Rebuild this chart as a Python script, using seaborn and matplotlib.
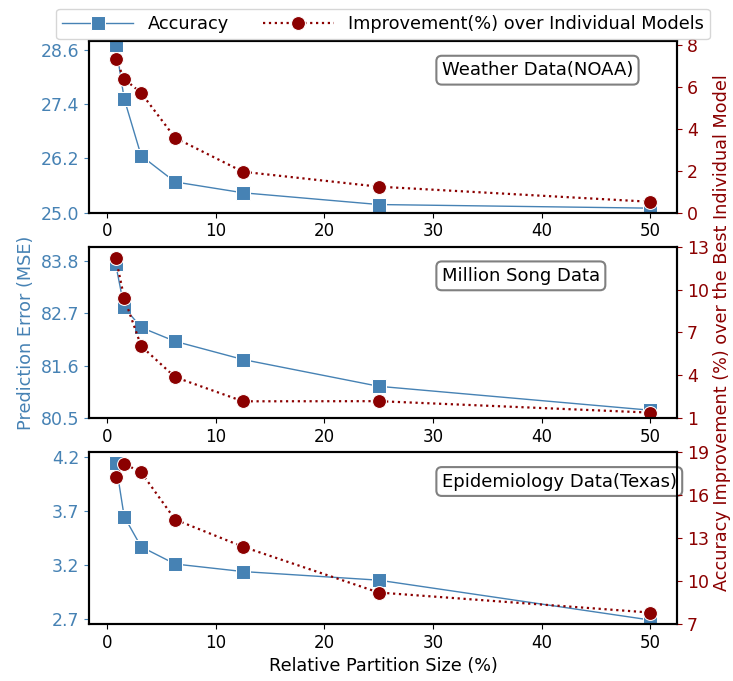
import matplotlib
matplotlib.use("Agg")
import matplotlib.pyplot as plt
import seaborn as sns
import numpy as np
from matplotlib.ticker import FormatStrFormatter

# ---- data ----
partition_size = [0.78125, 1.5625, 3.125, 6.25, 12.5, 25, 50]

weather_acc = [28.71, 27.52, 26.26, 25.68, 25.44, 25.18, 25.10]
weather_imp = [7.33, 6.38, 5.71, 3.57, 1.95, 1.24, 0.52]

song_acc = [83.72, 82.82, 82.40, 82.11, 81.73, 81.17, 80.67]
song_imp = [12.23, 9.42, 6.05, 3.88, 2.19, 2.20, 1.40]

epi_acc = [4.15, 3.65, 3.37, 3.21, 3.14, 3.06, 2.69]
epi_imp = [17.25, 18.2, 17.6, 14.3, 12.4, 9.2, 7.8]

titles = ["Weather Data(NOAA)", "Million Song Data", "Epidemiology Data(Texas)"]
left_ticks = [[25.0, 26.2, 27.4, 28.6], [80.5, 81.6, 82.7, 83.8], [2.7, 3.2, 3.7, 4.2]]
right_ticks = [[0, 2, 4, 6, 8], [1, 4, 7, 10, 13], [7, 10, 13, 16, 19]]
left_lims = [(25.0, 28.8), (80.5, 84.09), (2.653, 4.247)]
right_lims = [(0, 8.19), (1, 13), (7, 19)]

acc_series = [weather_acc, song_acc, epi_acc]
imp_series = [weather_imp, song_imp, epi_imp]

BLUE = "steelblue"
RED = "darkred"

plt.rcParams["font.family"] = ["DejaVu Sans"]
fig, axes = plt.subplots(3, 1, figsize=(7.33, 6.81), dpi=100)
fig.subplots_adjust(left=0.1214, right=0.9236, top=0.9398, bottom=0.0837, hspace=0.198)

twins = []
for i, ax in enumerate(axes):
    sns.lineplot(x=partition_size, y=acc_series[i], ax=ax, color=BLUE, marker="s",
                 markersize=9.5, linewidth=1, label="Accuracy", legend=False)
    ax2 = ax.twinx()
    twins.append(ax2)
    sns.lineplot(x=partition_size, y=imp_series[i], ax=ax2, color=RED, marker="o",
                 markersize=10, linewidth=1.6, linestyle=":",
                 label="Improvement(%) over Individual Models", legend=False)
    ax.set_ylim(*left_lims[i])
    ax2.set_ylim(*right_lims[i])
    ax.set_yticks(left_ticks[i])
    ax.yaxis.set_major_formatter(FormatStrFormatter("%.1f"))
    ax2.set_yticks(right_ticks[i])
    ax.tick_params(axis="y", colors=BLUE, labelsize=12.5)
    ax2.tick_params(axis="y", colors=RED, labelsize=12.5)
    ax.tick_params(axis="x", labelsize=12)
    ax.set_xticks([0, 10, 20, 30, 40, 50])
    for a in (ax, ax2):
        for s in a.spines.values():
            s.set_linewidth(1.5)
            s.set_color("black")
    ax.set_ylabel("")
    ax2.set_ylabel("")
    ax.text(0.6, 0.83, titles[i], transform=ax.transAxes, ha="left", va="center",
            fontsize=13, zorder=10,
            bbox=dict(boxstyle="round,pad=0.3", fc="white", ec="gray", lw=1.5))
    twins[i].set_zorder(ax.get_zorder() + 1)

axes[1].set_ylabel("Prediction Error (MSE)", color=BLUE, fontsize=12.7)
twins[1].set_ylabel("Accuracy Improvement (%) over the Best Individual Model",
                    color=RED, fontsize=12.7, labelpad=3)
axes[2].set_xlabel("Relative Partition Size (%)", fontsize=12.7)

h1, l1 = axes[0].get_legend_handles_labels()
h2, l2 = twins[0].get_legend_handles_labels()
twins[0].legend(h1 + h2, l1 + l2, loc="lower center", bbox_to_anchor=(0.5, 1.01),
                ncol=2, fontsize=12.8, frameon=True, borderaxespad=0.0,
                handlelength=4.0, columnspacing=1.9, borderpad=0.35)

fig.savefig("out.png", dpi=100)
